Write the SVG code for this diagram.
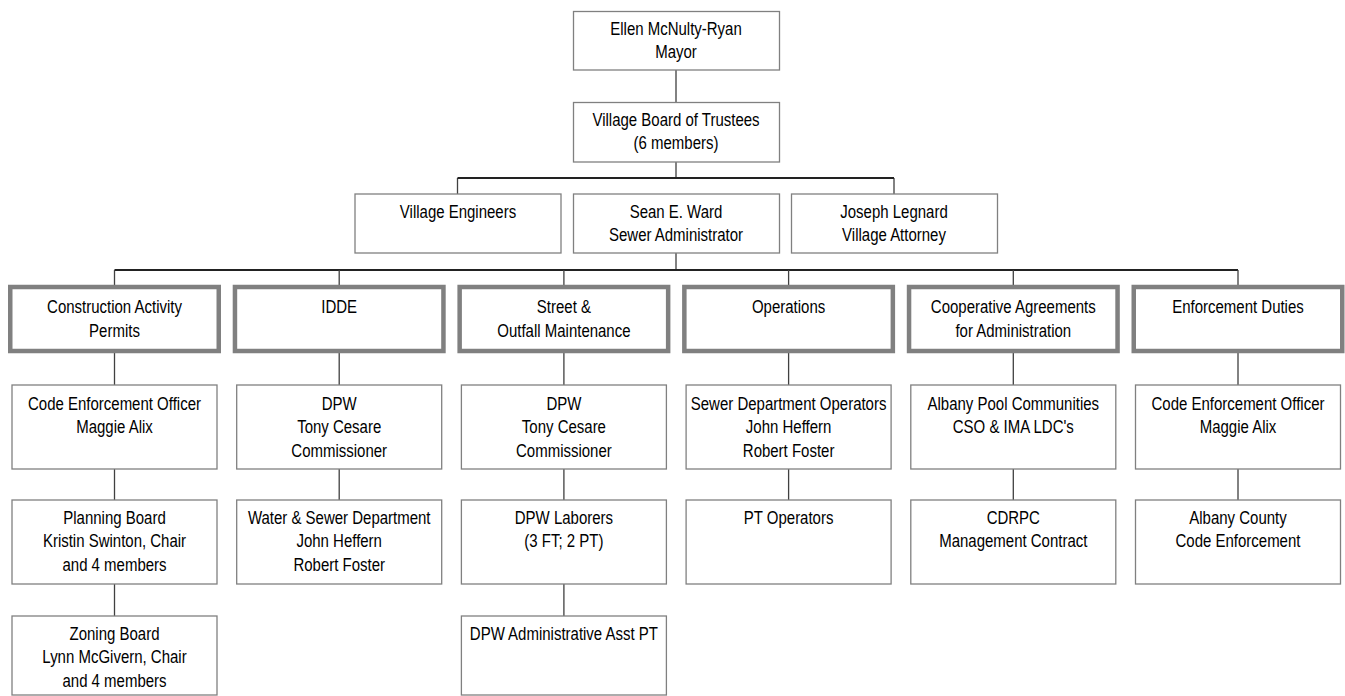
<svg xmlns="http://www.w3.org/2000/svg" width="1345" height="696" viewBox="0 0 1345 696">
<style>
.bx{fill:#fff;stroke:#808080;stroke-width:1.3}
.hd{fill:#fff;stroke:#808080;stroke-width:4.5}
.t{font-family:"Liberation Sans",Arial,sans-serif;font-size:18.5px;fill:#000;text-anchor:middle}
.c{fill:none;stroke:#404040;stroke-width:1.3}
.h{fill:none;stroke:#222;stroke-width:1.8}
</style>
<rect width="1345" height="696" fill="#fff"/>
<g id="connectors">
<path class="c" d="M676,70V102M676,162V178M457.5,178V194M894,178V194M676,253V270"/>
<path class="h" d="M457.5,178H894M114.5,270H1238"/>
<path class="c" d="M114.5,270V285M339.2,270V285M563.9,270V285M788.6,270V285M1013.3,270V285M1238,270V285"/>
<path class="c" d="M114.5,353V385M339.2,353V385M563.9,353V385M788.6,353V385M1013.3,353V385M1238,353V385"/>
<path class="c" d="M114.5,469V500M339.2,469V500M563.9,469V500M788.6,469V500M1013.3,469V500M1238,469V500"/>
<path class="c" d="M114.5,584V616M563.9,584V616"/>
</g>
<g id="mayor"><rect class="bx" x="573.5" y="11.5" width="206" height="58.5"/><g class="t" transform="translate(676,0) scale(0.81,1)"><text x="0" y="35">Ellen McNulty-Ryan</text><text x="0" y="58">Mayor</text></g></g>
<g id="board"><rect class="bx" x="573.5" y="102.5" width="206" height="59.5"/><g class="t" transform="translate(676,0) scale(0.81,1)"><text x="0" y="126">Village Board of Trustees</text><text x="0" y="149">(6 members)</text></g></g>
<g id="engineers"><rect class="bx" x="355" y="194" width="206" height="59"/><g class="t" transform="translate(458,0) scale(0.81,1)"><text x="0" y="218">Village Engineers</text></g></g>
<g id="sewer-admin"><rect class="bx" x="573.5" y="194" width="206" height="59"/><g class="t" transform="translate(676,0) scale(0.81,1)"><text x="0" y="218">Sean E. Ward</text><text x="0" y="241">Sewer Administrator</text></g></g>
<g id="attorney"><rect class="bx" x="791.5" y="194" width="206" height="59"/><g class="t" transform="translate(894,0) scale(0.81,1)"><text x="0" y="218">Joseph Legnard</text><text x="0" y="241">Village Attorney</text></g></g>

<g id="h-construction"><rect class="hd" x="10.25" y="287" width="208.5" height="64"/><g class="t" transform="translate(114.5,0) scale(0.81,1)"><text x="0" y="313">Construction Activity</text><text x="0" y="337">Permits</text></g></g>
<g id="h-idde"><rect class="hd" x="234.95" y="287" width="208.5" height="64"/><g class="t" transform="translate(339.2,0) scale(0.81,1)"><text x="0" y="313">IDDE</text></g></g>
<g id="h-street"><rect class="hd" x="459.65" y="287" width="208.5" height="64"/><g class="t" transform="translate(563.9,0) scale(0.81,1)"><text x="0" y="313">Street &amp;</text><text x="0" y="337">Outfall Maintenance</text></g></g>
<g id="h-operations"><rect class="hd" x="684.35" y="287" width="208.5" height="64"/><g class="t" transform="translate(788.6,0) scale(0.81,1)"><text x="0" y="313">Operations</text></g></g>
<g id="h-cooperative"><rect class="hd" x="909.05" y="287" width="208.5" height="64"/><g class="t" transform="translate(1013.3,0) scale(0.81,1)"><text x="0" y="313">Cooperative Agreements</text><text x="0" y="337">for Administration</text></g></g>
<g id="h-enforcement"><rect class="hd" x="1133.75" y="287" width="208.5" height="64"/><g class="t" transform="translate(1238,0) scale(0.81,1)"><text x="0" y="313">Enforcement Duties</text></g></g>

<g id="r3-c0"><rect class="bx" x="12" y="385" width="205" height="84"/><g class="t" transform="translate(114.5,0) scale(0.81,1)"><text x="0" y="410">Code Enforcement Officer</text><text x="0" y="433">Maggie Alix</text></g></g>
<g id="r3-c1"><rect class="bx" x="236.7" y="385" width="205" height="84"/><g class="t" transform="translate(339.2,0) scale(0.81,1)"><text x="0" y="410">DPW</text><text x="0" y="433">Tony Cesare</text><text x="0" y="457">Commissioner</text></g></g>
<g id="r3-c2"><rect class="bx" x="461.4" y="385" width="205" height="84"/><g class="t" transform="translate(563.9,0) scale(0.81,1)"><text x="0" y="410">DPW</text><text x="0" y="433">Tony Cesare</text><text x="0" y="457">Commissioner</text></g></g>
<g id="r3-c3"><rect class="bx" x="686.1" y="385" width="205" height="84"/><g class="t" transform="translate(788.6,0) scale(0.81,1)"><text x="0" y="410">Sewer Department Operators</text><text x="0" y="433">John Heffern</text><text x="0" y="457">Robert Foster</text></g></g>
<g id="r3-c4"><rect class="bx" x="910.8" y="385" width="205" height="84"/><g class="t" transform="translate(1013.3,0) scale(0.81,1)"><text x="0" y="410">Albany Pool Communities</text><text x="0" y="433">CSO &amp; IMA LDC's</text></g></g>
<g id="r3-c5"><rect class="bx" x="1135.5" y="385" width="205" height="84"/><g class="t" transform="translate(1238,0) scale(0.81,1)"><text x="0" y="410">Code Enforcement Officer</text><text x="0" y="433">Maggie Alix</text></g></g>

<g id="r4-c0"><rect class="bx" x="12" y="500" width="205" height="84"/><g class="t" transform="translate(114.5,0) scale(0.81,1)"><text x="0" y="524">Planning Board</text><text x="0" y="547">Kristin Swinton, Chair</text><text x="0" y="571">and 4 members</text></g></g>
<g id="r4-c1"><rect class="bx" x="236.7" y="500" width="205" height="84"/><g class="t" transform="translate(339.2,0) scale(0.81,1)"><text x="0" y="524">Water &amp; Sewer Department</text><text x="0" y="547">John Heffern</text><text x="0" y="571">Robert Foster</text></g></g>
<g id="r4-c2"><rect class="bx" x="461.4" y="500" width="205" height="84"/><g class="t" transform="translate(563.9,0) scale(0.81,1)"><text x="0" y="524">DPW Laborers</text><text x="0" y="547">(3 FT; 2 PT)</text></g></g>
<g id="r4-c3"><rect class="bx" x="686.1" y="500" width="205" height="84"/><g class="t" transform="translate(788.6,0) scale(0.81,1)"><text x="0" y="524">PT Operators</text></g></g>
<g id="r4-c4"><rect class="bx" x="910.8" y="500" width="205" height="84"/><g class="t" transform="translate(1013.3,0) scale(0.81,1)"><text x="0" y="524">CDRPC</text><text x="0" y="547">Management Contract</text></g></g>
<g id="r4-c5"><rect class="bx" x="1135.5" y="500" width="205" height="84"/><g class="t" transform="translate(1238,0) scale(0.81,1)"><text x="0" y="524">Albany County</text><text x="0" y="547">Code Enforcement</text></g></g>

<g id="r5-c0"><rect class="bx" x="12" y="616" width="205" height="79"/><g class="t" transform="translate(114.5,0) scale(0.81,1)"><text x="0" y="640">Zoning Board</text><text x="0" y="663">Lynn McGivern, Chair</text><text x="0" y="687">and 4 members</text></g></g>
<g id="r5-c2"><rect class="bx" x="461.4" y="616" width="205" height="79"/><g class="t" transform="translate(563.9,0) scale(0.81,1)"><text x="0" y="640">DPW Administrative Asst PT</text></g></g>
</svg>
